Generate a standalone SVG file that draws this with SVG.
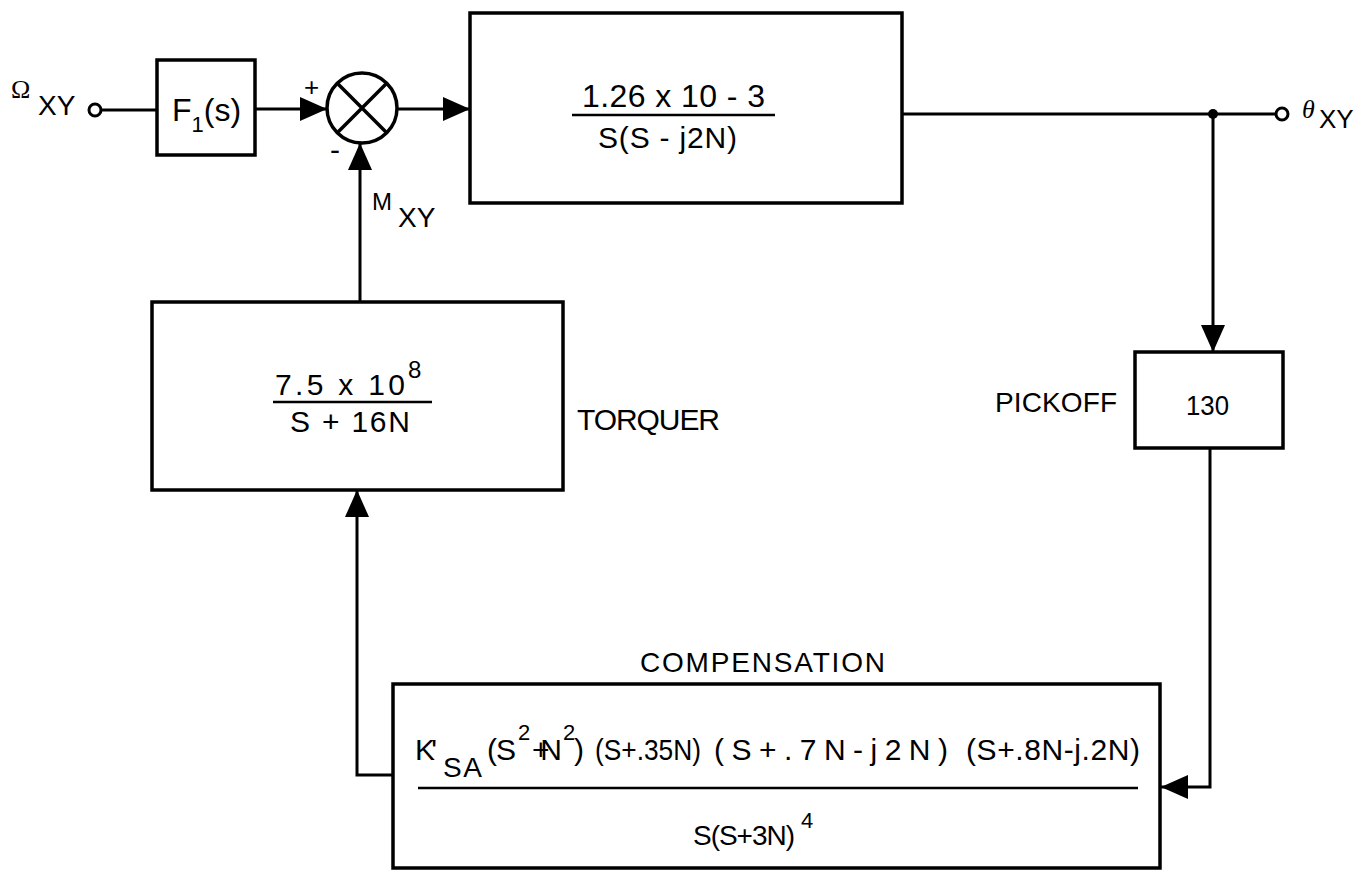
<svg xmlns="http://www.w3.org/2000/svg" width="1363" height="878" viewBox="0 0 1363 878">
<defs>
<style>
.box{fill:none;stroke:#000;stroke-width:3.5}
.ln{fill:none;stroke:#000;stroke-width:3}
.frac{stroke:#000;stroke-width:2.5}
text{font-family:"Liberation Sans",Arial,sans-serif;fill:#000}
.t28{font-size:28px}
.t30{font-size:30px}
.sup{font-size:22px}
.serif{font-family:"Liberation Serif","Times New Roman",serif}
</style>
<marker id="arr" markerUnits="userSpaceOnUse" markerWidth="28" markerHeight="24" refX="27" refY="12" orient="auto">
<path d="M0,0 L27,12 L0,24 z" fill="#000"/>
</marker>
</defs>
<rect width="1363" height="878" fill="#fff"/>

<g id="connectors">
<path class="ln" d="M101,110 H157"/>
<path class="ln" d="M255,109 H327" marker-end="url(#arr)"/>
<path class="ln" d="M397,109 H470" marker-end="url(#arr)"/>
<path class="ln" d="M902,114 H1276"/>
<path class="ln" d="M1213,114 V352" marker-end="url(#arr)"/>
<path class="ln" d="M1210,448 V787 H1161" marker-end="url(#arr)"/>
<path class="ln" d="M393,775 H357 V490" marker-end="url(#arr)"/>
<path class="ln" d="M360,302 V143" marker-end="url(#arr)"/>
<circle cx="1213" cy="114" r="5" fill="#000"/>
<text x="372" y="210" style="font-size:24px">M</text>
<text class="t28" x="398" y="227">XY</text>
</g>

<g id="input">
<circle class="ln" cx="95" cy="110" r="6" fill="#fff"/>
<text class="serif" x="11" y="98" style="font-size:26px">Ω</text>
<text class="t28" x="38" y="115">XY</text>
</g>

<g id="f1">
<rect class="box" x="157" y="60" width="98" height="95"/>
<text x="172" y="121" style="font-size:32px">F<tspan dy="11" style="font-size:22px">1</tspan><tspan dy="-11">(s)</tspan></text>
</g>

<g id="sum">
<circle class="ln" cx="362" cy="108" r="35" fill="none" style="stroke-width:3.5"/>
<path class="ln" d="M337.3,83.3 L386.7,132.7 M386.7,83.3 L337.3,132.7" style="stroke-width:3.5"/>
<text x="304" y="96" style="font-size:26px">+</text>
<text x="330" y="160" style="font-size:30px">-</text>
</g>

<g id="plant">
<rect class="box" x="470" y="13" width="432" height="190"/>
<text x="582" y="107" style="font-size:32px" textLength="183">1.26 x 10 - 3</text>
<line class="frac" x1="572" y1="115" x2="775" y2="115"/>
<text class="t30" x="598" y="148" textLength="139">S(S - j2N)</text>
</g>

<g id="output">
<circle class="ln" cx="1282" cy="114" r="6" fill="#fff"/>
<text class="serif" x="1302" y="118" style="font-size:26px;font-style:italic">θ</text>
<text x="1319" y="128" style="font-size:26px">XY</text>
</g>

<g id="pickoff">
<rect class="box" x="1135" y="352" width="148" height="96"/>
<text class="t28" x="1186" y="415" textLength="43" lengthAdjust="spacingAndGlyphs">130</text>
<text class="t28" x="995" y="412" textLength="122">PICKOFF</text>
</g>

<g id="torquer">
<rect class="box" x="152" y="302" width="411" height="188"/>
<text class="t30" x="275" y="395" textLength="130">7.5 x 10</text>
<text x="408" y="378" style="font-size:24px">8</text>
<line class="frac" x1="273" y1="402" x2="432" y2="402"/>
<text class="t30" x="290" y="432" textLength="120">S + 16N</text>
<text class="t30" x="577" y="430" textLength="143">TORQUER</text>
</g>

<g id="compensation">
<text class="t28" x="640" y="672" textLength="245">COMPENSATION</text>
<rect class="box" x="393" y="684" width="767" height="184"/>
<text class="t30" x="415" y="760" textLength="22">K'</text>
<text class="t28" x="443" y="777" textLength="39">SA</text>
<text class="t30" x="487" y="760" textLength="29">(S</text>
<text class="sup" x="518" y="740">2</text>
<text class="t30" x="532" y="760" textLength="30">+N</text>
<text class="sup" x="563" y="740">2</text>
<text class="t30" x="574" y="760">)</text>
<text class="t30" x="595" y="760" textLength="106" lengthAdjust="spacingAndGlyphs">(S+.35N)</text>
<text class="t30" x="714" y="760" textLength="234">(S+.7N-j2N)</text>
<text class="t30" x="966" y="760" textLength="174">(S+.8N-j.2N)</text>
<line class="frac" x1="418" y1="788" x2="1138" y2="788"/>
<text class="t28" x="693" y="845" textLength="102">S(S+3N)</text>
<text class="sup" x="801" y="828">4</text>
</g>
</svg>
